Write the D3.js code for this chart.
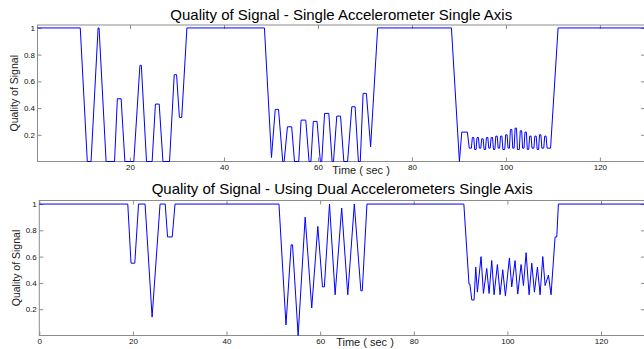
<!DOCTYPE html>
<html>
<head>
<meta charset="utf-8">
<script src="https://cdn.jsdelivr.net/npm/d3@7"></script>
<style>
  body { margin: 0; background: #fff; }
  svg { display: block; font-family: "Liberation Sans", Arial, sans-serif; }
  .tick text { font-size: 8px; fill: #111; }
  .tick line { stroke: #8c8c8c; }
</style>
</head>
<body>
<svg id="chart" width="644" height="349"></svg>
<script>
// values: [time (sec), quality]
var singleAxisSignal = [
  [0.3, 1], [9.4, 1], [10.9, 0], [11.7, 0], [13.2, 1], [13.4, 1], [14.9, 0], [16.7, 0],
  [17.3, 0.47], [18.1, 0.47], [18.9, 0], [20.8, 0], [22.1, 0.72], [22.4, 0.72], [23.5, 0],
  [24.7, 0], [25.4, 0.43], [26.2, 0.43], [27.0, 0], [28.4, 0], [29.4, 0.65], [29.9, 0.65],
  [30.5, 0.33], [31.0, 0.33], [32.1, 1], [48.6, 1], [50.1, 0.03], [50.9, 0.39], [51.6, 0.39],
  [52.5, 0], [52.8, 0], [53.5, 0.26], [54.4, 0.26], [55.0, 0], [55.9, 0], [56.4, 0.31],
  [57.4, 0.31], [58.1, 0], [58.5, 0], [59.0, 0.30], [59.8, 0.30], [60.5, 0], [60.8, 0],
  [61.4, 0.36], [62.3, 0.36], [63.0, 0], [63.3, 0], [64.0, 0.34], [64.8, 0.34], [65.5, 0],
  [66.3, 0], [67.2, 0.41], [67.9, 0.41], [68.6, 0], [69.0, 0], [69.6, 0.51], [70.3, 0.51],
  [71.2, 0.11], [72.7, 1], [88.4, 1], [90.1, 0], [90.6, 0.22], [91.8, 0.22], [92.2, 0.1],
  [92.65, 0.1], [92.85, 0.18], [93.15, 0.18], [93.35, 0.09],
  [93.65, 0.09], [93.85, 0.18], [94.15, 0.18], [94.35, 0.1],
  [94.65, 0.1], [94.85, 0.17], [95.15, 0.17], [95.35, 0.09],
  [95.65, 0.09], [95.85, 0.18], [96.15, 0.18], [96.35, 0.1],
  [96.65, 0.1], [96.85, 0.18], [97.15, 0.18], [97.35, 0.09],
  [97.65, 0.09], [97.85, 0.19], [98.15, 0.19], [98.35, 0.1],
  [98.65, 0.1], [98.85, 0.19], [99.15, 0.19], [99.35, 0.09],
  [99.75, 0.09], [99.95, 0.20], [100.25, 0.20], [100.45, 0.1],
  [100.75, 0.1], [100.95, 0.24], [101.25, 0.24], [101.45, 0.1],
  [101.75, 0.1], [101.95, 0.25], [102.25, 0.25], [102.45, 0.09],
  [102.85, 0.09], [103.05, 0.23], [103.35, 0.23], [103.55, 0.1],
  [103.85, 0.1], [104.05, 0.22], [104.35, 0.22], [104.55, 0.09],
  [104.85, 0.09], [105.05, 0.19], [105.35, 0.19], [105.55, 0.1],
  [105.95, 0.1], [106.15, 0.19], [106.45, 0.19], [106.65, 0.09],
  [106.95, 0.09], [107.15, 0.20], [107.45, 0.20], [107.65, 0.1],
  [108.05, 0.1], [108.25, 0.19], [108.55, 0.19], [108.75, 0.1],
  [109.5, 0.1], [111.1, 1], [129.6, 1]
];

var dualAxisSignal = [
  [0, 1], [18.9, 1], [19.6, 0.55], [20.4, 0.55], [21.2, 1], [22.6, 1], [24.1, 0.14],
  [25.8, 1], [26.9, 1], [27.4, 0.75], [28.4, 0.75], [29.0, 1], [51.2, 1], [52.7, 0.08],
  [53.8, 0.69], [54.1, 0.69], [55.3, 0.0], [56.8, 0.9], [58.2, 0.21], [59.5, 0.83],
  [60.5, 0.37], [60.9, 0.37], [62.0, 1], [63.2, 0.31], [64.6, 0.97], [65.9, 0.31],
  [67.3, 1], [68.7, 0.34], [69.0, 0.34], [70.0, 1], [90.7, 1], [91.8, 0.39], [92.0, 0.39],
  [92.4, 0.27], [92.88, 0.27], [93.24, 0.52], [93.59, 0.33], [94.38, 0.60], [94.88, 0.32],
  [95.59, 0.51], [96.09, 0.32], [96.66, 0.57], [97.16, 0.31], [97.87, 0.54], [98.44, 0.31],
  [99.01, 0.50], [99.58, 0.30], [100.43, 0.59], [100.93, 0.37], [101.64, 0.57],
  [102.21, 0.315], [102.93, 0.54], [103.43, 0.38], [104.00, 0.63], [104.64, 0.31],
  [105.21, 0.55], [105.78, 0.33], [106.42, 0.52], [106.99, 0.31], [107.56, 0.60],
  [108.06, 0.38], [108.77, 0.46], [109.33, 0.31], [110.19, 0.75], [110.55, 0.75],
  [110.9, 1], [129.4, 1]
];

var topXTicks = [20, 40, 60, 80, 100, 120];
var bottomXTicks = [0, 20, 40, 60, 80, 100, 120];
var yTicks = [0.2, 0.4, 0.6, 0.8, 1];

var svg = d3.select('#chart');

function drawPanel(p) {
  var x = d3.scaleLinear().domain(p.xDomain).range([p.left, p.right]);
  var y = d3.scaleLinear().domain([0, p.yMax]).range([p.bottom, p.top]);
  var g = svg.append('g');

  // inward ticks on all four sides, like matlab
  g.append('g').attr('transform', 'translate(0,' + p.bottom + ')')
    .call(d3.axisBottom(x).tickValues(p.xTicks).tickSizeInner(-4).tickSizeOuter(0).tickPadding(3).tickFormat(d3.format('d')))
    .call(function(a) { a.select('.domain').remove(); });
  g.append('g').attr('transform', 'translate(0,' + p.top + ')')
    .call(d3.axisTop(x).tickValues(p.xTicks).tickSizeInner(-4).tickSizeOuter(0).tickFormat(''))
    .call(function(a) { a.select('.domain').remove(); });
  g.append('g').attr('transform', 'translate(' + p.left + ',0)')
    .call(d3.axisLeft(y).tickValues(yTicks).tickSizeInner(-4).tickSizeOuter(0).tickPadding(2.5).tickFormat(d3.format('~g')))
    .call(function(a) { a.select('.domain').remove(); });
  g.append('g').attr('transform', 'translate(' + p.right + ',0)')
    .call(d3.axisRight(y).tickValues(yTicks).tickSizeInner(-4).tickSizeOuter(0).tickFormat(''))
    .call(function(a) { a.select('.domain').remove(); });
  g.selectAll('.tick text').attr('font-family', null).attr('font-size', null);

  g.append('rect')
    .attr('x', p.left).attr('y', p.top)
    .attr('width', p.right - p.left).attr('height', p.bottom - p.top)
    .attr('fill', 'none').attr('stroke', '#8c8c8c');

  var line = d3.line().x(function(d) { return x(d[0]); }).y(function(d) { return y(d[1]); });
  g.append('path').datum(p.data)
    .attr('d', line)
    .attr('fill', 'none').attr('stroke', '#0000ff').attr('stroke-width', 1)
    .attr('stroke-linejoin', 'round');

  g.append('text').text(p.title)
    .attr('x', (p.left + p.right) / 2).attr('y', p.titleY)
    .attr('text-anchor', 'middle').attr('font-size', '15px').attr('fill', '#000');
  g.append('text').text('Time ( sec )')
    .attr('x', p.xLabelX).attr('y', p.xLabelY)
    .attr('text-anchor', 'middle').attr('font-size', '11px').attr('fill', '#222');
  g.append('text').text('Quality of Signal')
    .attr('transform', 'translate(' + p.yLabelX + ',' + (p.top + p.bottom) / 2 + ') rotate(-90)')
    .attr('text-anchor', 'middle').attr('font-size', '10.5px').attr('fill', '#222');
}

drawPanel({
  data: singleAxisSignal, xDomain: [0.3, 129.6], yMax: 1.022, xTicks: topXTicks,
  left: 37.5, right: 645, top: 25, bottom: 161.5,
  title: 'Quality of Signal - Single Accelerometer Single Axis', titleY: 19.5,
  xLabelX: 361, xLabelY: 174, yLabelX: 18
});
drawPanel({
  data: dualAxisSignal, xDomain: [0, 129.4], yMax: 1.027, xTicks: bottomXTicks,
  left: 39.3, right: 645, top: 200.5, bottom: 335.5,
  title: 'Quality of Signal - Using Dual Accelerometers Single Axis', titleY: 193.5,
  xLabelX: 365, xLabelY: 346, yLabelX: 20
});
</script>
</body>
</html>
